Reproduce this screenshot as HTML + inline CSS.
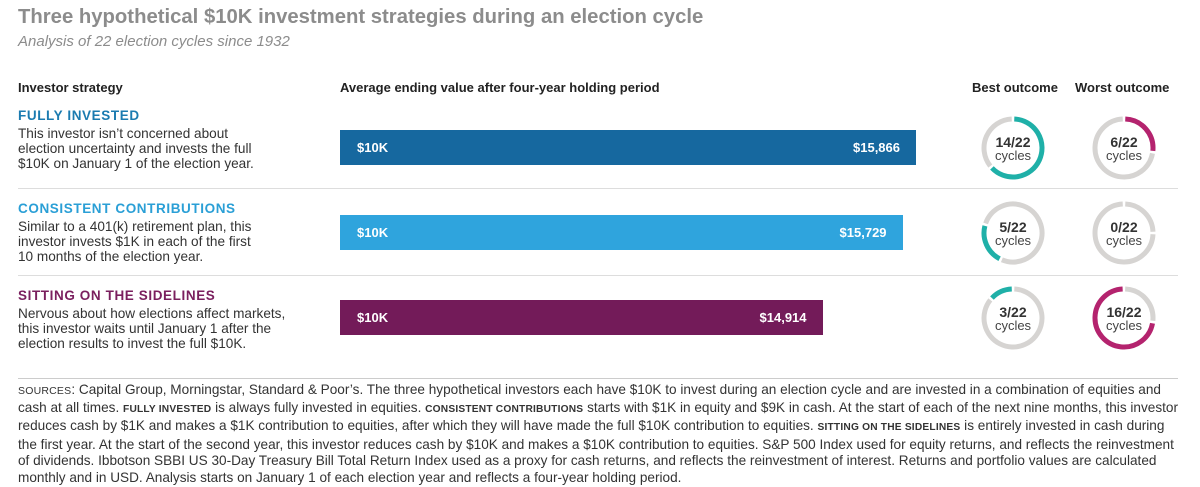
<!DOCTYPE html>
<html><head><meta charset="utf-8">
<style>
*{margin:0;padding:0;box-sizing:border-box}
body{width:1200px;height:486px;background:#fff;font-family:"Liberation Sans",sans-serif;color:#333;position:relative;overflow:hidden}
.a{position:absolute;white-space:nowrap}
.title{left:18px;top:6px;font-size:20.3px;font-weight:bold;color:#8c8c8c}
.sub{left:18px;top:33px;font-size:15px;font-style:italic;color:#8c8c8c}
.hdr{font-size:13px;font-weight:bold;color:#222;top:80px}
.sname{left:18px;font-size:13.5px;font-weight:bold;letter-spacing:0.6px}
.desc{left:18px;font-size:13.6px;line-height:15px;color:#333}
.rule{position:absolute;left:18px;width:1160px;height:1px;background:#ddd}
.bar{position:absolute;height:35px;color:#fff;font-size:13px;font-weight:bold}
.bar span{position:absolute;top:10px}
.foot{left:18px;font-size:13.6px;color:#333;line-height:16.6px;top:382px}
.sc{font-size:10.2px;text-transform:uppercase;font-weight:bold;letter-spacing:0.2px}
</style></head><body>
<div class="a title">Three hypothetical $10K investment strategies during an election cycle</div>
<div class="a sub">Analysis of 22 election cycles since 1932</div>
<div class="a hdr" style="left:18px">Investor strategy</div>
<div class="a hdr" style="left:340px">Average ending value after four-year holding period</div>
<div class="a hdr" style="left:972px">Best outcome</div>
<div class="a hdr" style="left:1075px">Worst outcome</div>

<div class="a sname" style="top:108px;color:#1b7bb0">FULLY INVESTED</div>
<div class="a desc" style="top:126px">This investor isn’t concerned about<br>election uncertainty and invests the full<br>$10K on January 1 of the election year.</div>
<div class="rule" style="top:188px"></div>
<div class="a sname" style="top:201px;color:#2a9fd6">CONSISTENT CONTRIBUTIONS</div>
<div class="a desc" style="top:219px">Similar to a 401(k) retirement plan, this<br>investor invests $1K in each of the first<br>10 months of the election year.</div>
<div class="rule" style="top:275px"></div>
<div class="a sname" style="top:288px;color:#7a1f5e">SITTING ON THE SIDELINES</div>
<div class="a desc" style="top:306px">Nervous about how elections affect markets,<br>this investor waits until January 1 after the<br>election results to invest the full $10K.</div>
<div class="rule" style="top:378px;background:#ccc"></div>

<div id="bars"></div>
<svg id="donuts" class="a" style="left:0;top:0" width="1200" height="486"></svg>

<div class="a foot"><span class="sc" style="font-weight:normal;font-size:10.5px">Sources</span>: Capital Group, Morningstar, Standard &amp; Poor’s. The three hypothetical investors each have $10K to invest during an election cycle and are invested in a combination of equities and<br>cash at all times. <span class="sc">Fully invested</span> is always fully invested in equities. <span class="sc">Consistent contributions</span> starts with $1K in equity and $9K in cash. At the start of each of the next nine months, this investor<br>reduces cash by $1K and makes a $1K contribution to equities, after which they will have made the full $10K contribution to equities. <span class="sc">Sitting on the sidelines</span> is entirely invested in cash during<br>the first year. At the start of the second year, this investor reduces cash by $10K and makes a $10K contribution to equities. S&amp;P 500 Index used for equity returns, and reflects the reinvestment<br>of dividends. Ibbotson SBBI US 30-Day Treasury Bill Total Return Index used as a proxy for cash returns, and reflects the reinvestment of interest. Returns and portfolio values are calculated<br>monthly and in USD. Analysis starts on January 1 of each election year and reflects a four-year holding period.</div>

<script>
const strategies = ["fully-invested","consistent-contributions","sitting-on-the-sidelines"];
const endingValues = [15866, 15729, 14914];
const valueLabels = ["$15,866","$15,729","$14,914"];
const bestOutcomes = [14, 5, 3];
const worstOutcomes = [6, 0, 16];
const totalCycles = 22;

const barColors = ["#16689f","#2fa4dd","#731b59"];
const rowTops = [130, 215, 300];
const bestStartDeg = [0, 205, 311];
const worstStartDeg = [0, 0, 98];
const xBase = 10000, x0 = 340, pxPer = 576/5866;
function xScale(v){ return x0 + (v - xBase) * pxPer; }

const bars = document.getElementById('bars');
endingValues.forEach((v,i)=>{
  const d = document.createElement('div');
  d.className = 'bar';
  
  
  d.style.left = x0 + 'px';
  d.style.top = rowTops[i] + 'px';
  d.style.width = (xScale(v) - x0) + 'px';
  d.style.background = barColors[i];
  d.innerHTML = '<span style="left:17px">$10K</span><span style="right:16px">' + valueLabels[i] + '</span>';
  bars.appendChild(d);
});

const NS = 'http://www.w3.org/2000/svg';
const svg = document.getElementById('donuts');
const R = 29, SW = 5, gapDeg = 5;
function pt(cx,cy,deg){ const a=(deg-90)*Math.PI/180; return [cx+R*Math.cos(a), cy+R*Math.sin(a)]; }
function arc(cx,cy,a1,a2,color,name){
  if (a2 - a1 <= 0) return;
  const p = document.createElementNS(NS,'path');
  const s = pt(cx,cy,a1), e = pt(cx,cy,a2);
  p.setAttribute('d', `M${s[0]},${s[1]} A${R},${R} 0 ${a2-a1>180?1:0} 1 ${e[0]},${e[1]}`);
  p.setAttribute('fill','none'); p.setAttribute('stroke',color); p.setAttribute('stroke-width',SW);
  
  
  svg.appendChild(p);
}
function donut(cx,cy,n,start,color,name){
  const ang = n/totalCycles*360;
  if (n > 0) {
    arc(cx,cy,start+gapDeg/2,start+ang-gapDeg/2,color,name+'-arc');
    arc(cx,cy,start+ang+gapDeg/2,start+360-gapDeg/2,'#d6d4d2',name+'-track');
  } else {
    arc(cx,cy,gapDeg/2,90-gapDeg/2,'#d6d4d2',name+'-track');
    arc(cx,cy,90+gapDeg/2,360-gapDeg/2,'#d6d4d2',name+'-track-b');
  }
  const t1 = document.createElementNS(NS,'text');
  t1.setAttribute('x',cx); t1.setAttribute('y',cy-1); t1.setAttribute('text-anchor','middle');
  t1.setAttribute('font-size','14'); t1.setAttribute('font-weight','bold'); t1.setAttribute('fill','#333');
  t1.setAttribute('font-family','Liberation Sans, sans-serif');
  t1.textContent = n + '/' + totalCycles;
  
  
  svg.appendChild(t1);
  const t2 = document.createElementNS(NS,'text');
  t2.setAttribute('x',cx); t2.setAttribute('y',cy+12); t2.setAttribute('text-anchor','middle');
  t2.setAttribute('font-size','13'); t2.setAttribute('fill','#444');
  t2.setAttribute('font-family','Liberation Sans, sans-serif');
  t2.textContent = 'cycles';
  
  
  svg.appendChild(t2);
}
const donutY = [148, 233, 318];
bestOutcomes.forEach((n,i)=> donut(1013, donutY[i], n, bestStartDeg[i], '#1fb0a8', 'best-donut-'+strategies[i]));
worstOutcomes.forEach((n,i)=> donut(1124, donutY[i], n, worstStartDeg[i], '#b4236e', 'worst-donut-'+strategies[i]));
</script>
</body></html>
